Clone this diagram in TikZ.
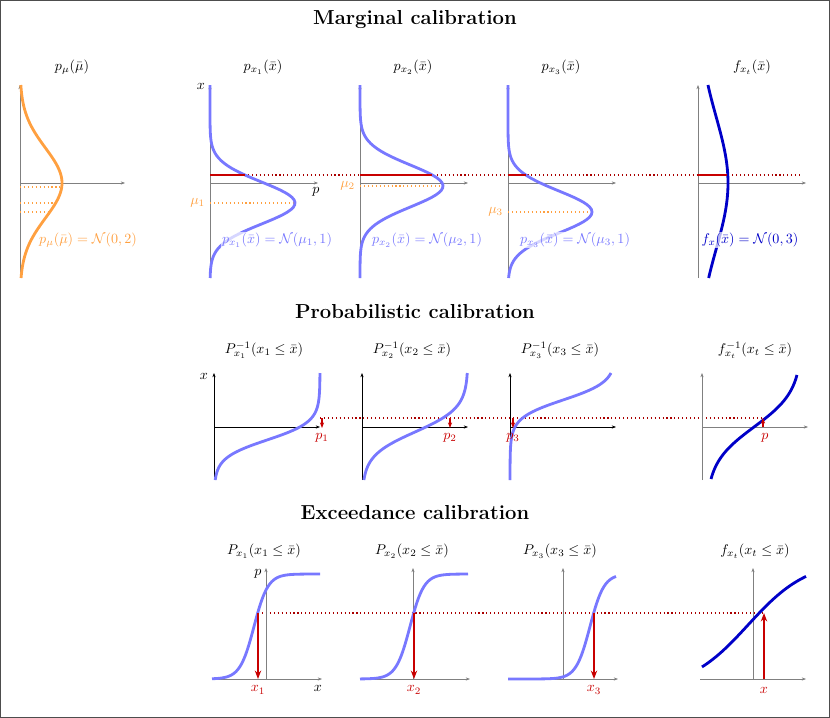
\documentclass[tikz,border=0pt]{standalone}
\usepackage{amsmath}
\usepackage{xcolor}
\usetikzlibrary{arrows.meta, positioning}
\definecolor{cborange}{HTML}{FFA040}
\definecolor{cbblue}{HTML}{7878FF}
\definecolor{cbdark}{HTML}{0000C8}
\definecolor{cbred}{HTML}{C80000}
\definecolor{cbgray}{HTML}{808080}

\begin{document}
\begin{tikzpicture}[
  x=0.025cm, y=-0.025cm,
  axis/.style={cbgray, thin, -{Stealth[length=3pt]}},
  bcurve/.style={cbblue, line width=2pt},
  dcurve/.style={cbdark, line width=2pt},
  ocurve/.style={cborange, line width=2pt},
  odot/.style={draw=cborange, dotted, thick},
  rdot/.style={draw=cbred!85!black, dotted, line width=0.8pt},
  redbar/.style={cbred, line width=1.6pt},
  redarrow/.style={cbred, line width=1.4pt, -{Stealth[length=6pt]}},
  panel/.style={font=\normalsize},
  formula/.style={fill=white, fill opacity=0.7, text opacity=1, inner sep=1pt},
  heading/.style={font=\Large\bfseries},
]
\useasboundingbox (0,0) rectangle (830,718);
\draw[cbgray!60!black] (0.5,0.5) rectangle (829.5,717.5);

% Headings
\node[heading] (h1) at (415,20) {Marginal calibration};
\node[heading] (h2) at (415,312) {Probabilistic calibration};
\node[heading] (h3) at (415,513) {Exceedance calibration};

% Row 1: densities
\draw[axis] (20,278) -- (20,85);
\draw[axis] (20,183) -- (125,183);
\foreach \yy in {187,203,212}
  \draw[odot] (20,\yy) -- ({20+42*exp(-((\yy-183)/35)^2/2)},\yy);
\draw[ocurve] plot[domain=85:278, samples=80, variable=\t] ({20+42*exp(-((\t-183)/35)^2/2)},\t);
\node[panel] (t0) at (72,67) {$p_\mu(\bar\mu)$};
\node[formula, text=cborange] (f0) at (88,240) {$p_\mu(\bar\mu)=\mathcal{N}(0,2)$};

\draw[rdot] (240,175) -- (800,175);
\foreach \i/\ox/\mc/\px in {1/210/203/85, 2/360/186/83, 3/508/212/84} {
  \draw[axis] (\ox,278) -- (\ox,85);
  \draw[axis] (\ox,183) -- (\ox+108,183);
  \draw[odot] (\ox,\mc) -- (\ox+\px,\mc);
  \node[text=cborange, left] (mu\i) at (\ox,\mc) {$\mu_\i$};
  \draw[bcurve] plot[domain=85:278, samples=80, variable=\t] ({\ox+\px*exp(-((\t-\mc)/21)^2/2)},\t);
  \draw[redbar] (\ox,175) -- ({\ox+\px*exp(-((175-\mc)/21)^2/2)},175);
  \node[panel] (t\i) at (\ox+53,67) {$p_{x_\i}(\bar x)$};
  \node[formula, text=cbblue] (f\i) at (\ox+67,240) {$p_{x_\i}(\bar x)=\mathcal{N}(\mu_\i,1)$};
}
\node (xa) at (201,86) {$x$};
\node (pa) at (316,192) {$p$};

\draw[axis] (698,278) -- (698,85);
\draw[axis] (698,183) -- (806,183);
\draw[dcurve] plot[domain=85:278, samples=80, variable=\t] ({698+30*exp(-((\t-183)/66)^2/2)},\t);
\draw[redbar] (698,175) -- (727,175);
\node[panel] (t4) at (752,67) {$f_{x_t}(\bar x)$};
\node[formula, text=cbdark] (f4) at (750,240) {$f_x(\bar x)=\mathcal{N}(0,3)$};

% Row 2: inverse distributions
\draw[rdot] (320,418) -- (763,418);
\foreach \i/\ox/\yc/\a/\pp in {1/214/440/9/322, 2/362/432/12/450, 3/510/400/9/513} {
  \draw[axis, black] (\ox,480) -- (\ox,373);
  \draw[axis, black] (\ox,427) -- (\ox+106,427);
  \draw[bcurve] plot[domain=373:480, samples=90, variable=\t] ({\ox+106/(1+exp(-max(-9,min(9,(\yc-\t)/\a))))},\t);
  \coordinate (a\i) at (\pp,418);
  \coordinate (b\i) at (\pp,428);
  \draw[redarrow, line width=1pt, -{Stealth[length=4pt]}] (a\i) -- (b\i);
  \node[text=cbred] (p\i) at (\pp,438) {$p_\i$};
  \node[panel] (u\i) at (\ox+50,350) {$P^{-1}_{x_\i}(x_\i\leq\bar x)$};
}
\node (xb) at (204,376) {$x$};
\draw[axis] (702,480) -- (702,373);
\draw[axis] (702,427) -- (808,427);
\draw[dcurve] plot[domain=375:479, samples=80, variable=\t] ({706+96/(1+exp(-(427-\t)/18))},\t);
\coordinate (a4) at (763,427);
\coordinate (b4) at (763,418);
\draw[redarrow, line width=1pt, -{Stealth[length=4pt]}] (a4) -- (b4);
\node[text=cbred] (p4) at (765,438) {$p$};
\node[panel] (u4) at (755,350) {$f^{-1}_{x_t}(x_t\leq\bar x)$};

% Row 3: distributions
\draw[rdot] (258,613) -- (764,613);
\foreach \i/\ox/\ax/\xc in {1/212/266/254, 2/360/413/410, 3/508/563/590} {
  \draw[axis] (\ax,679) -- (\ax,568);
  \draw[axis] (\ox,679) -- (\ox+110,679);
  \draw[bcurve] plot[domain=\ox:\ox+108, samples=90, variable=\t] (\t,{679-105/(1+exp(-max(-9,min(9,(\t-\xc)/7))))});
  \coordinate (c\i) at (\xc+4,613);
  \coordinate (d\i) at (\xc+4,679);
  \draw[redarrow] (c\i) -- (d\i);
  \node[text=cbred] (x\i) at (\xc+4,690) {$x_\i$};
  \node[panel] (v\i) at (\ox+52,551) {$P_{x_\i}(x_\i\leq\bar x)$};
}
\node (pc) at (258,574) {$p$};
\node (xc) at (318,688) {$x$};
\draw[axis] (753,679) -- (753,568);
\draw[axis] (700,679) -- (806,679);
\draw[dcurve] plot[domain=702:806, samples=80, variable=\t] (\t,{690-130/(1+exp(-(\t-748)/30))});
\coordinate (c4) at (764,679);
\coordinate (d4) at (764,613);
\draw[redarrow] (c4) -- (d4);
\node[text=cbred] (x4) at (764,690) {$x$};
\node[panel] (v4) at (755,551) {$f_{x_t}(x_t\leq\bar x)$};
\end{tikzpicture}
\end{document}
